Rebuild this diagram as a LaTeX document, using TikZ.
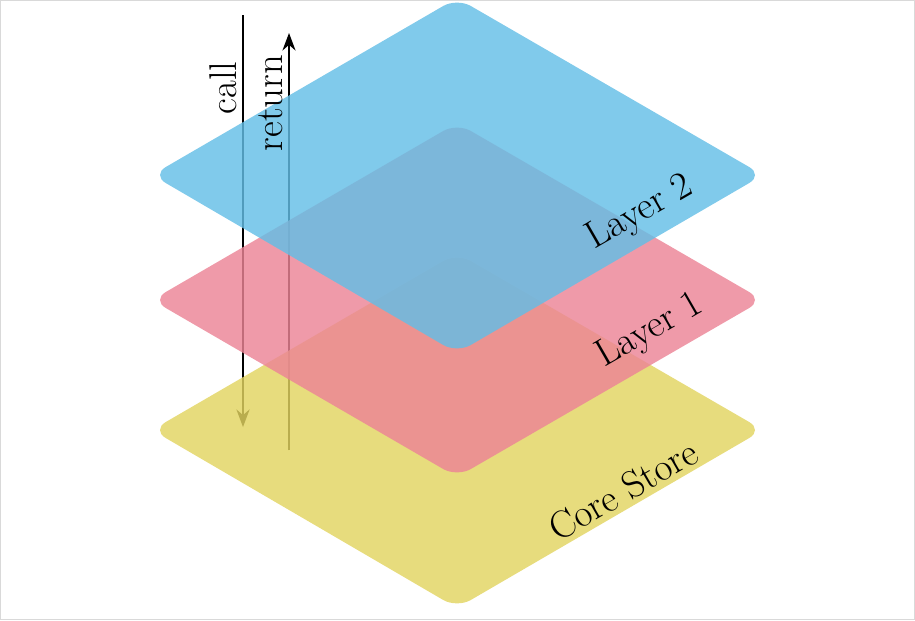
\documentclass[tikz,border=0pt]{standalone}
\usetikzlibrary{arrows.meta}
\definecolor{coreYellow}{RGB}{226,212,96}
\definecolor{layerRed}{RGB}{236,132,150}
\definecolor{layerBlue}{RGB}{100,190,230}
\begin{document}
\begin{tikzpicture}
        [x=0.02cm, y=-0.02cm,
        layer/.style={rounded corners=9pt, opacity=0.82},
        lbl/.style={font=\fontsize{22}{24}\selectfont, rotate=30},
        flowlbl/.style={font=\fontsize{22}{24}\selectfont, rotate=90, anchor=south},
        flow/.style={thick, -{Stealth[length=10pt]}}]
        \useasboundingbox (0,0) rectangle (915,620);
        \draw[gray!30] (0.5,0.5) rectangle (914.5,619.5);
        % call / return
        \coordinate (callTop) at (243,15);
        \coordinate (callEnd) at (243,427);
        \coordinate (retStart) at (289,450);
        \coordinate (retTop) at (289,33);
        \draw[flow] (callTop) -- (callEnd);
        \draw[flow] (retStart) -- (retTop);
        % layers
        \fill[layer, coreYellow] (152,430) -- (457,253) -- (763,430) -- (457,608) -- cycle;
        \fill[layer, layerRed] (152,300) -- (457,123) -- (763,300) -- (457,477) -- cycle;
        \fill[layer, layerBlue] (152,175) -- (457,-2) -- (763,175) -- (457,353) -- cycle;
        \node[flowlbl] (call) at (243,88) {call};
        \node[flowlbl] (return) at (289,103) {return};
        \node[lbl] (core) at (623,490) {Core Store};
        \node[lbl] (l1) at (650,331) {Layer 1};
        \node[lbl] (l2) at (640,213) {Layer 2};
\end{tikzpicture}
\end{document}
